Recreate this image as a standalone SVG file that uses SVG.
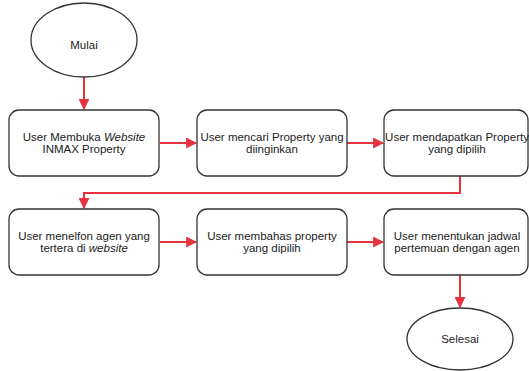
<svg xmlns="http://www.w3.org/2000/svg" width="529" height="371" viewBox="0 0 529 371">
<style>
.n{fill:#fff;stroke:#333;stroke-width:1.3}
.t{font-family:"Liberation Sans",Arial,sans-serif;font-size:11.5px;fill:#222;text-anchor:middle}
.c{fill:none;stroke:#e5343d;stroke-width:2}
</style>
<defs>
<marker id="a" viewBox="0 0 10 10" refX="9" refY="5" markerWidth="5.5" markerHeight="5.5" orient="auto" markerUnits="strokeWidth">
<path d="M0,0 L10,5 L0,10 z" fill="#e5343d"/>
</marker>
</defs>
<rect width="529" height="371" fill="#fff"/>
<g id="connectors">
<path class="c" d="M84,77 V109" marker-end="url(#a)"/>
<path class="c" d="M160,143 H196" marker-end="url(#a)"/>
<path class="c" d="M347,143 H383" marker-end="url(#a)"/>
<path class="c" d="M460,176 V193 H84 V208" marker-end="url(#a)"/>
<path class="c" d="M160,242 H196" marker-end="url(#a)"/>
<path class="c" d="M347,242 H383" marker-end="url(#a)"/>
<path class="c" d="M460,275 V307" marker-end="url(#a)"/>
</g>
<g id="mulai">
<ellipse class="n" cx="84" cy="40" rx="53" ry="37"/>
<text class="t" x="84" y="49">Mulai</text>
</g>
<g id="n1">
<rect class="n" x="9" y="110" width="150" height="66" rx="10"/>
<text class="t" x="84" y="141">User Membuka <tspan font-style="italic">Website</tspan></text>
<text class="t" x="84" y="153">INMAX Property</text>
</g>
<g id="n2">
<rect class="n" x="197" y="110" width="150" height="66" rx="10"/>
<text class="t" x="272" y="141">User mencari Property yang</text>
<text class="t" x="272" y="153">diinginkan</text>
</g>
<g id="n3">
<rect class="n" x="384" y="110" width="144" height="66" rx="10"/>
<text class="t" x="457" y="141">User mendapatkan Property</text>
<text class="t" x="457" y="153">yang dipilih</text>
</g>
<g id="n4">
<rect class="n" x="9" y="209" width="150" height="66" rx="10"/>
<text class="t" x="84" y="240">User menelfon agen yang</text>
<text class="t" x="84" y="252">tertera di <tspan font-style="italic">website</tspan></text>
</g>
<g id="n5">
<rect class="n" x="197" y="209" width="150" height="66" rx="10"/>
<text class="t" x="272" y="240">User membahas property</text>
<text class="t" x="272" y="252">yang dipilih</text>
</g>
<g id="n6">
<rect class="n" x="384" y="209" width="144" height="66" rx="10"/>
<text class="t" x="457" y="240">User menentukan jadwal</text>
<text class="t" x="457" y="252">pertemuan dengan agen</text>
</g>
<g id="selesai">
<ellipse class="n" cx="460" cy="339" rx="53" ry="31"/>
<text class="t" x="460" y="343">Selesai</text>
</g>
</svg>
